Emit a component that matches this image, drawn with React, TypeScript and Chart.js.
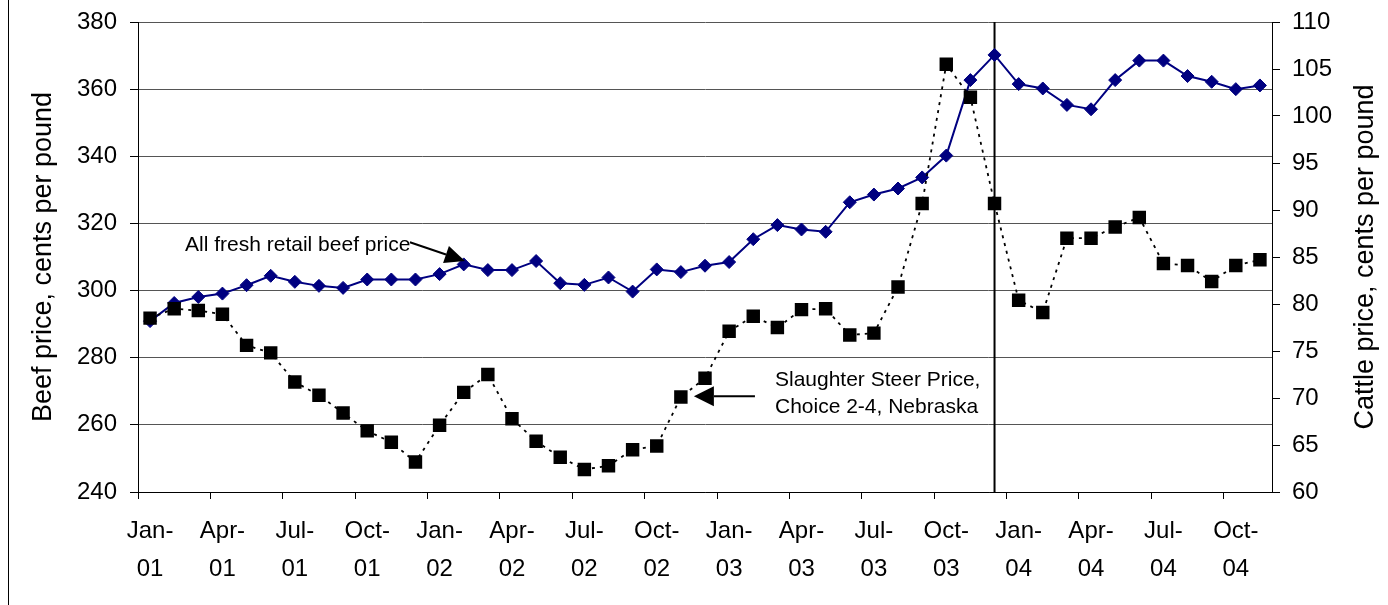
import React, { useEffect, useRef } from "react";
import { Chart, registerables } from "chart.js";

Chart.register(...registerables);

// ---- Data ----
const months = [
  "Jan-01", "Feb-01", "Mar-01", "Apr-01", "May-01", "Jun-01", "Jul-01", "Aug-01", "Sep-01", "Oct-01", "Nov-01", "Dec-01",
  "Jan-02", "Feb-02", "Mar-02", "Apr-02", "May-02", "Jun-02", "Jul-02", "Aug-02", "Sep-02", "Oct-02", "Nov-02", "Dec-02",
  "Jan-03", "Feb-03", "Mar-03", "Apr-03", "May-03", "Jun-03", "Jul-03", "Aug-03", "Sep-03", "Oct-03", "Nov-03", "Dec-03",
  "Jan-04", "Feb-04", "Mar-04", "Apr-04", "May-04", "Jun-04", "Jul-04", "Aug-04", "Sep-04", "Oct-04", "Nov-04",
];

// All fresh retail beef price, cents per pound (left axis)
const beefPrice = [
  290.9, 296.3, 298.1, 299.1, 301.6, 304.4, 302.6, 301.4, 300.8, 303.3, 303.3, 303.3,
  304.9, 307.8, 306.1, 306.1, 308.8, 302.2, 301.7, 303.9, 299.7, 306.3, 305.5, 307.4,
  308.5, 315.3, 319.5, 318.2, 317.5, 326.3, 328.6, 330.4, 333.7, 340.2, 362.7, 370.2,
  361.5, 360.2, 355.3, 354.0, 362.7, 368.5, 368.5, 363.9, 362.2, 360.0, 361.1,
];

// Slaughter steer price, Choice 2-4, Nebraska, cents per pound (right axis)
const cattlePrice = [
  78.5, 79.5, 79.3, 78.9, 75.6, 74.8, 71.7, 70.3, 68.4, 66.5, 65.3, 63.2,
  67.1, 70.6, 72.5, 67.8, 65.4, 63.7, 62.4, 62.8, 64.5, 64.9, 70.1, 72.1,
  77.1, 78.7, 77.5, 79.4, 79.5, 76.7, 76.9, 81.8, 90.7, 105.5, 102.0, 90.7,
  80.4, 79.1, 87.0, 87.0, 88.2, 89.2, 84.3, 84.1, 82.4, 84.1, 84.7,
];

const beefAxis = { min: 240, max: 380, step: 20 };
const cattleAxis = { min: 60, max: 110, step: 5 };
const markerMonth = "Dec-03";

const leftTitle = "Beef price, cents per pound";
const rightTitle = "Cattle price, cents per pound";
const beefNote = "All fresh retail beef price";
const cattleNote = ["Slaughter Steer Price,", "Choice 2-4, Nebraska"];

const FONT = "'Liberation Sans', Arial, Helvetica, sans-serif";

function drawArrow(ctx: CanvasRenderingContext2D, x1: number, y1: number, x2: number, y2: number, headLen: number, headW: number) {
  const ang = Math.atan2(y2 - y1, x2 - x1);
  const bx = x2 - headLen * Math.cos(ang);
  const by = y2 - headLen * Math.sin(ang);
  ctx.beginPath();
  ctx.moveTo(x1, y1);
  ctx.lineTo(bx, by);
  ctx.lineWidth = 2;
  ctx.stroke();
  ctx.beginPath();
  ctx.moveTo(x2, y2);
  ctx.lineTo(bx + headW * Math.sin(ang), by - headW * Math.cos(ang));
  ctx.lineTo(bx - headW * Math.sin(ang), by + headW * Math.cos(ang));
  ctx.closePath();
  ctx.fill();
}

export default function App() {
  const ref = useRef<HTMLCanvasElement>(null);

  useEffect(() => {
    const canvas = ref.current;
    if (!canvas) return;

    const annotations = {
      id: "annotations",
      beforeDatasetsDraw(chart: any) {
        const { ctx, chartArea, scales } = chart;
        const x = scales.x.getPixelForValue(months.indexOf(markerMonth));
        ctx.save();
        ctx.strokeStyle = "#000";
        ctx.lineWidth = 2;
        ctx.beginPath();
        ctx.moveTo(x, chartArea.top);
        ctx.lineTo(x, chartArea.bottom);
        ctx.stroke();
        ctx.restore();
      },
      afterDraw(chart: any) {
        const { ctx, chartArea, scales } = chart;
        const px = (i: number) => scales.x.getPixelForValue(i);
        const py = (v: number) => scales.y.getPixelForValue(v);
        const cy = (chartArea.top + chartArea.bottom) / 2;
        ctx.save();
        ctx.fillStyle = "#000";
        ctx.strokeStyle = "#000";

        // axis titles
        ctx.font = `27px ${FONT}`;
        ctx.textAlign = "center";
        ctx.textBaseline = "middle";
        ctx.save();
        ctx.translate(44, cy);
        ctx.rotate(-Math.PI / 2);
        ctx.fillText(leftTitle, 0, 0);
        ctx.restore();
        ctx.save();
        ctx.translate(1366, cy);
        ctx.rotate(-Math.PI / 2);
        ctx.fillText(rightTitle, 0, 0);
        ctx.restore();

        // annotations
        ctx.font = `21px ${FONT}`;
        ctx.textAlign = "left";
        ctx.textBaseline = "middle";
        ctx.fillText(beefNote, px(1.45), py(313.5));
        drawArrow(ctx, px(10.77), py(314.4), px(13.05), py(308.8), 20, 9);

        ctx.fillText(cattleNote[0], px(25.9), py(273.3));
        ctx.fillText(cattleNote[1], px(25.9), py(265.2));
        drawArrow(ctx, px(25.07), py(268.5), px(22.54), py(268.5), 20, 10);
        ctx.restore();
      },
    };

    const chart = new Chart(canvas, {
      type: "line",
      data: {
        labels: months,
        datasets: [
          {
            label: "Slaughter Steer Price, Choice 2-4, Nebraska",
            data: cattlePrice,
            yAxisID: "y1",
            borderColor: "#000",
            borderWidth: 1.8,
            borderDash: [3, 5],
            pointStyle: "rect",
            pointRadius: 9.5,
            pointBackgroundColor: "#000",
            pointBorderColor: "#000",
            pointBorderWidth: 0,
            tension: 0,
            fill: false,
          },
          {
            label: beefNote,
            data: beefPrice,
            yAxisID: "y",
            borderColor: "#000080",
            borderWidth: 2,
            pointStyle: "rectRot",
            pointRadius: 6.5,
            pointBackgroundColor: "#000080",
            pointBorderColor: "#000080",
            pointBorderWidth: 1,
            tension: 0,
            fill: false,
          },
        ],
      },
      options: {
        responsive: false,
        animation: false,
        devicePixelRatio: 1,
        layout: { padding: { top: 22, left: 0, right: 0, bottom: 0 } },
        plugins: {
          legend: { display: false },
          tooltip: { enabled: false },
        },
        scales: {
          x: {
            type: "category",
            offset: true,
            grid: {
              offset: true,
              drawOnChartArea: false,
              tickLength: 7,
              lineWidth: 1,
              tickColor: (c: any) => (c.index !== undefined && c.index % 3 === 0 ? "#000" : "rgba(0,0,0,0)"),
            },
            border: { color: "#000", width: 1 },
            ticks: {
              autoSkip: false,
              maxRotation: 0,
              minRotation: 0,
              padding: 13,
              color: "#000",
              font: { family: FONT, size: 24, lineHeight: 1.6 },
              callback: (_v: any, i: number) => (i % 3 === 0 ? [months[i].slice(0, 4), months[i].slice(4)] : ""),
            },
            afterFit: (s: any) => {
              s.height = 113;
            },
          },
          y: {
            position: "left",
            min: beefAxis.min,
            max: beefAxis.max,
            ticks: { stepSize: beefAxis.step, padding: 13, color: "#000", font: { family: FONT, size: 24 } },
            grid: { color: "#555", tickColor: "#000", tickLength: 8, lineWidth: 1 },
            border: { color: "#000", width: 1 },
            afterFit: (s: any) => {
              s.width = 138;
              s.paddingTop = 0;
              s.paddingBottom = 0;
            },
          },
          y1: {
            position: "right",
            min: cattleAxis.min,
            max: cattleAxis.max,
            ticks: { stepSize: cattleAxis.step, padding: 12, color: "#000", font: { family: FONT, size: 24 } },
            grid: { drawOnChartArea: false, tickColor: "#000", tickLength: 8, lineWidth: 1 },
            border: { color: "#000", width: 1 },
            afterFit: (s: any) => {
              s.width = 116;
              s.paddingTop = 0;
              s.paddingBottom = 0;
            },
          },
        },
      },
      plugins: [annotations],
    });

    return () => chart.destroy();
  }, []);

  return (
    <div style={{ position: "relative", width: 1388, height: 605, background: "#fff" }}>
      <style>{"body{margin:0;}"}</style>
      <div style={{ position: "absolute", left: 8, top: 0, width: 1, height: 605, background: "#000" }} />
      <canvas ref={ref} width={1388} height={605} style={{ position: "absolute", left: 0, top: 0 }} />
    </div>
  );
}
